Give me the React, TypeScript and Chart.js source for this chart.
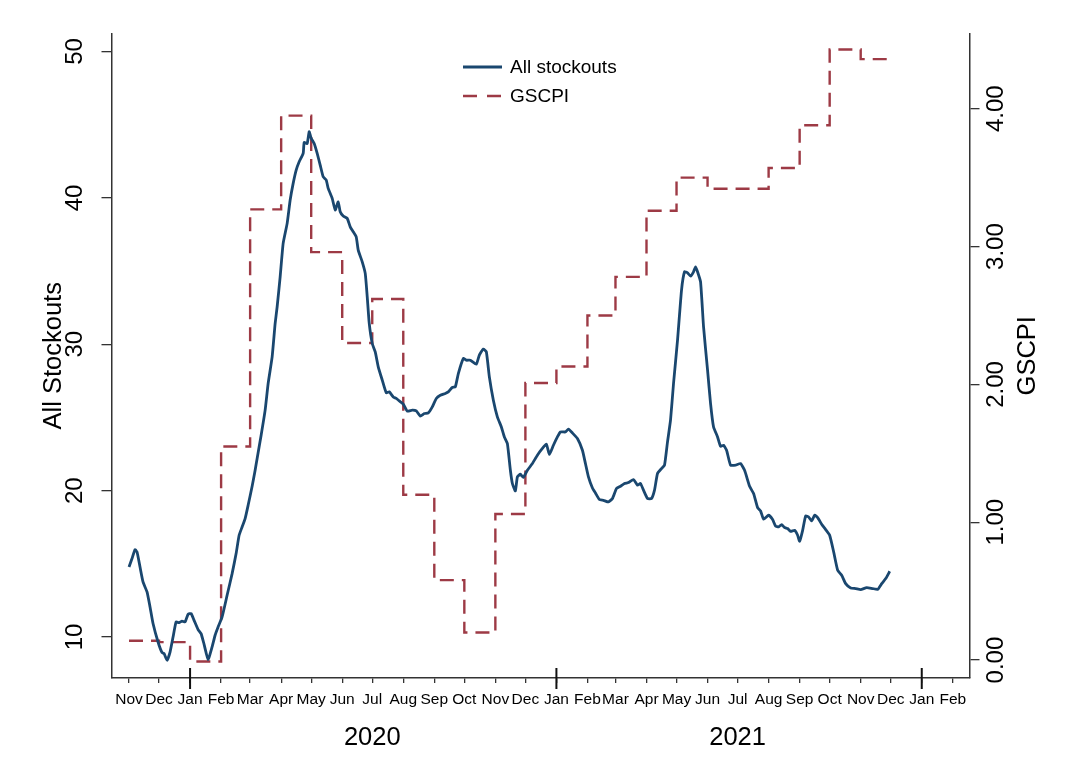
import React, { useEffect, useRef } from 'react';
import { Chart, registerables } from 'chart.js';

Chart.register(...registerables);

// ---------- data ----------
const monthTickDates = [
  '2019-11-01', '2019-12-01',
  '2020-01-01', '2020-02-01', '2020-03-01', '2020-04-01', '2020-05-01', '2020-06-01',
  '2020-07-01', '2020-08-01', '2020-09-01', '2020-10-01', '2020-11-01', '2020-12-01',
  '2021-01-01', '2021-02-01', '2021-03-01', '2021-04-01', '2021-05-01', '2021-06-01',
  '2021-07-01', '2021-08-01', '2021-09-01', '2021-10-01', '2021-11-01', '2021-12-01',
  '2022-01-01', '2022-02-01',
];
const monthTickLabels = [
  'Nov', 'Dec',
  'Jan', 'Feb', 'Mar', 'Apr', 'May', 'Jun', 'Jul', 'Aug', 'Sep', 'Oct', 'Nov', 'Dec',
  'Jan', 'Feb', 'Mar', 'Apr', 'May', 'Jun', 'Jul', 'Aug', 'Sep', 'Oct', 'Nov', 'Dec',
  'Jan', 'Feb',
];
const majorTickDates = ['2020-01-01', '2021-01-01', '2022-01-01'];
const yearLabels = ['2020', '2021'];
const yearLabelDates = ['2020-07-01', '2021-07-01'];

const leftTicks = [10, 20, 30, 40, 50];
const rightTicks = [0, 1, 2, 3, 4];

// days since 2020-01-01
const stockoutDays = [
  -61, -58, -55, -53, -50, -47, -43, -40, -37, -32, -28, -26, -23, -20, -17, -14, -11, -8, -5, -2,
  1, 4, 8, 11, 14, 18, 22, 25, 28, 32, 37, 42, 46, 49, 52, 55, 58, 62, 65, 67,
  71, 75, 78, 82, 85, 87, 90, 93, 97, 100, 103, 106, 109, 113, 114, 117, 119, 121, 124, 127,
  130, 133, 136, 138, 142, 145, 148, 150, 153, 157, 160, 163, 166, 168, 172, 175, 177, 179, 182, 185,
  188, 192, 196, 199, 203, 206, 209, 213, 217, 222, 226, 230, 234, 238, 242, 246, 250, 255, 258, 262,
  265, 268, 273, 276, 280, 286, 289, 293, 296, 299, 303, 307, 311, 314, 317, 320, 322, 325, 327, 330,
  333, 337, 342, 347, 352, 356, 359, 363, 367, 370, 375, 378, 382, 387, 392, 395, 398, 402, 405, 409,
  413, 418, 422, 426, 430, 434, 438, 443, 447, 450, 453, 457, 461, 464, 467, 471, 474, 477, 480, 483,
  487, 491, 494, 497, 500, 503, 505, 507, 510, 513, 517, 520, 523, 527, 530, 533, 536, 540, 545, 550,
  554, 559, 563, 567, 570, 573, 578, 582, 585, 588, 591, 594, 597, 600, 604, 607, 609, 612, 615, 618,
  621, 624, 627, 631, 635, 639, 643, 647, 651, 655, 660, 665, 670, 676, 682, 687, 691, 695, 699,
];
const stockoutValues = [
  14.78, 15.36, 15.97, 15.81, 14.78, 13.76, 13.08, 12.05, 10.92, 9.66, 8.93, 8.87, 8.41, 8.97, 10.0, 11.03, 10.98, 11.09, 11.03, 11.55,
  11.6, 11.14, 10.51, 10.23, 9.5, 8.46, 9.32, 10.12, 10.68, 11.37, 12.85, 14.33, 15.7, 16.95, 17.52, 18.09, 19.0, 20.3, 21.4, 22.2,
  23.79, 25.5, 27.32, 29.14, 31.42, 32.56, 34.61, 36.89, 38.26, 39.85, 40.99, 41.9, 42.47, 43.04, 43.79, 43.72, 44.52, 44.07, 43.72, 43.04,
  42.24, 41.44, 41.22, 40.65, 39.97, 39.17, 39.73, 39.05, 38.76, 38.6, 38.02, 37.68, 37.34, 36.43, 35.63, 34.84, 33.24, 31.42, 30.05, 29.48,
  28.46, 27.55, 26.68, 26.75, 26.4, 26.3, 26.13, 25.91, 25.43, 25.5, 25.45, 25.09, 25.27, 25.31, 25.72, 26.3, 26.52, 26.64, 26.75, 27.05,
  27.09, 28.0, 29.03, 28.91, 28.91, 28.64, 29.26, 29.67, 29.48, 27.77, 26.18, 25.04, 24.35, 23.67, 23.22, 21.39, 20.49, 19.98, 20.94, 21.12,
  20.9, 21.39, 21.85, 22.42, 22.88, 23.17, 22.47, 23.1, 23.67, 24.01, 24.01, 24.2, 23.94, 23.56, 22.76, 21.85, 20.94, 20.18, 19.84, 19.39,
  19.34, 19.23, 19.46, 20.14, 20.3, 20.49, 20.55, 20.76, 20.37, 20.49, 20.03, 19.46, 19.46, 20.03, 21.17, 21.51, 21.74, 23.33, 24.81, 27.32,
  30.28, 33.7, 34.95, 34.88, 34.65, 34.95, 35.29, 34.95, 34.27, 31.19, 28.23, 25.95, 24.35, 23.67, 23.03, 23.1, 22.76, 21.74, 21.74, 21.85,
  21.39, 20.3, 19.8, 18.84, 18.61, 18.05, 18.32, 18.02, 17.57, 17.52, 17.68, 17.48, 17.41, 17.22, 17.29, 16.95, 16.54, 17.29, 18.27, 18.2,
  17.93, 18.32, 18.16, 17.7, 17.34, 16.95, 15.81, 14.56, 14.22, 13.65, 13.35, 13.31, 13.24, 13.38, 13.31, 13.26, 13.65, 13.99, 14.49,
];

// monthly GSCPI (value holds for the month); last entry closes the Nov-2021 period
const gscpiMonths = [
  '2019-11-01', '2019-12-01', '2020-01-01', '2020-02-01', '2020-03-01', '2020-04-01', '2020-05-01',
  '2020-06-01', '2020-07-01', '2020-08-01', '2020-09-01', '2020-10-01', '2020-11-01', '2020-12-01',
  '2021-01-01', '2021-02-01', '2021-03-01', '2021-04-01', '2021-05-01', '2021-06-01', '2021-07-01',
  '2021-08-01', '2021-09-01', '2021-10-01', '2021-11-01', '2021-12-01',
];
const gscpiValues = [
  0.14, 0.13, -0.01, 1.55, 3.27, 3.95, 2.96,
  2.3, 2.62, 1.2, 0.58, 0.2, 1.06, 2.01,
  2.13, 2.5, 2.78, 3.26, 3.5, 3.42, 3.42,
  3.57, 3.88, 4.43, 4.36, 4.36,
];

// ---------- helpers / styles ----------
const ORIGIN = Date.UTC(2020, 0, 1);
const dayOf = (s: string) => {
  const [y, m, d] = s.split('-').map(Number);
  return (Date.UTC(y, m - 1, d) - ORIGIN) / 86400000;
};

const FONT = '"Liberation Sans", Arial, Helvetica, sans-serif';
const BLUE = '#1a476f';
const RED = '#9d3a45';
const AXIS = '#333333';

const decorPlugin = {
  id: 'decor',
  afterDraw(chart: any) {
    const { ctx, chartArea, scales } = chart;
    const x = scales.x;
    const yl = scales.y;
    const yr = scales.y2;
    ctx.save();

    // major (January) ticks crossing the axis
    ctx.strokeStyle = '#111';
    ctx.lineWidth = 2;
    majorTickDates.forEach((d) => {
      const px = x.getPixelForValue(dayOf(d));
      ctx.beginPath();
      ctx.moveTo(px, chartArea.bottom - 10);
      ctx.lineTo(px, chartArea.bottom + 11);
      ctx.stroke();
    });

    // year labels
    ctx.fillStyle = '#000';
    ctx.font = `25.5px ${FONT}`;
    ctx.textAlign = 'center';
    ctx.textBaseline = 'middle';
    yearLabels.forEach((l, i) => {
      ctx.fillText(l, x.getPixelForValue(dayOf(yearLabelDates[i])), chartArea.bottom + 60);
    });

    const rot = (text: string, cx: number, cy: number, size: number) => {
      ctx.save();
      ctx.translate(cx, cy);
      ctx.rotate(-Math.PI / 2);
      ctx.font = `${size}px ${FONT}`;
      ctx.textAlign = 'center';
      ctx.textBaseline = 'middle';
      ctx.fillStyle = '#000';
      ctx.fillText(text, 0, 0);
      ctx.restore();
    };
    leftTicks.forEach((v) => rot(String(v), chartArea.left - 36, yl.getPixelForValue(v), 24));
    rightTicks.forEach((v) => rot(v.toFixed(2), chartArea.right + 27, yr.getPixelForValue(v), 24));
    const midY = (chartArea.top + chartArea.bottom) / 2;
    rot('All Stockouts', chartArea.left - 58, midY, 25.5);
    rot('GSCPI', chartArea.right + 58, midY, 25.5);

    // legend
    const ds = chart.data.datasets;
    const lx0 = 463, lx1 = 502, tx = 510;
    const rows = [67, 96];
    ds.forEach((d: any, i: number) => {
      ctx.strokeStyle = d.borderColor;
      ctx.lineWidth = d.borderWidth;
      ctx.setLineDash(i === 1 ? [14, 10] : []);
      ctx.beginPath();
      ctx.moveTo(lx0, rows[i]);
      ctx.lineTo(lx1, rows[i]);
      ctx.stroke();
      ctx.setLineDash([]);
      ctx.font = `19px ${FONT}`;
      ctx.fillStyle = '#000';
      ctx.textAlign = 'left';
      ctx.textBaseline = 'middle';
      ctx.fillText(d.label, tx, rows[i] + 1);
    });

    ctx.restore();
  },
};

export default function App() {
  const ref = useRef<HTMLCanvasElement>(null);

  useEffect(() => {
    if (!ref.current) return;
    const chart = new Chart(ref.current, {
      type: 'line',
      data: {
        datasets: [
          {
            label: 'All stockouts',
            data: stockoutDays.map((d, i) => ({ x: d, y: stockoutValues[i] })),
            yAxisID: 'y',
            borderColor: BLUE,
            borderWidth: 2.8,
            pointRadius: 0,
            tension: 0.15,
            fill: false,
          },
          {
            label: 'GSCPI',
            data: gscpiMonths.map((m, i) => ({ x: dayOf(m), y: gscpiValues[i] })),
            yAxisID: 'y2',
            borderColor: RED,
            borderWidth: 2.4,
            borderDash: [14, 8],
            stepped: true,
            pointRadius: 0,
            fill: false,
          },
        ],
      },
      options: {
        responsive: false,
        animation: false,
        devicePixelRatio: 1,
        events: [],
        layout: { padding: { top: 33.5, left: 0, right: 0, bottom: 0 } },
        plugins: {
          legend: { display: false },
          tooltip: { enabled: false },
          title: { display: false },
        },
        scales: {
          x: {
            type: 'linear',
            position: 'bottom',
            min: -78.5,
            max: 778.7,
            afterBuildTicks: (s: any) => {
              s.ticks = monthTickDates.map((d) => ({ value: dayOf(d) }));
            },
            afterFit: (s: any) => {
              s.height = 104;
            },
            ticks: {
              autoSkip: false,
              maxRotation: 0,
              minRotation: 0,
              padding: 7,
              color: '#000',
              font: { family: FONT, size: 15.5 },
              callback: (_v: any, i: number) => monthTickLabels[i],
            },
            grid: { drawOnChartArea: false, drawTicks: true, tickLength: 5, color: AXIS, lineWidth: 1.3 },
            border: { display: true, color: AXIS, width: 1.5 },
          },
          y: {
            type: 'linear',
            position: 'left',
            min: 7.2,
            max: 51.23,
            afterBuildTicks: (s: any) => {
              s.ticks = leftTicks.map((v) => ({ value: v }));
            },
            afterFit: (s: any) => {
              s.width = 111.5;
            },
            ticks: { display: false },
            grid: { drawOnChartArea: false, drawTicks: true, tickLength: 10, color: AXIS, lineWidth: 1.3 },
            border: { display: true, color: AXIS, width: 1.5 },
          },
          y2: {
            type: 'linear',
            position: 'right',
            min: -0.13,
            max: 4.546,
            afterBuildTicks: (s: any) => {
              s.ticks = rightTicks.map((v) => ({ value: v }));
            },
            afterFit: (s: any) => {
              s.width = 98.5;
            },
            ticks: { display: false },
            grid: { drawOnChartArea: false, drawTicks: true, tickLength: 10, color: AXIS, lineWidth: 1.3 },
            border: { display: true, color: AXIS, width: 1.5 },
          },
        },
      } as any,
      plugins: [decorPlugin],
    });
    return () => chart.destroy();
  }, []);

  return (
    <div style={{ position: 'fixed', left: 0, top: 0, width: 1068, height: 782, background: '#fff' }}>
      <canvas ref={ref} width={1068} height={782} style={{ display: 'block', width: 1068, height: 782 }} />
    </div>
  );
}
